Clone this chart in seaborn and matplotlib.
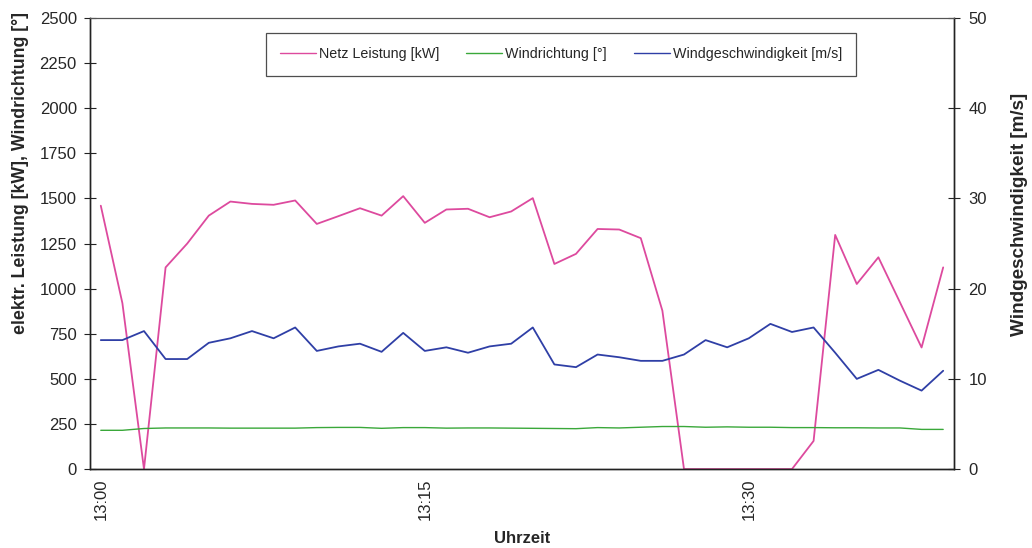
import matplotlib
matplotlib.use("Agg")
from matplotlib import pyplot as plt
from matplotlib.ticker import FixedLocator, NullFormatter
import pandas as pd
import seaborn as sns

# one sample per minute, 13:00 .. 13:39
times = ["13:%02d" % m for m in range(40)]

# Netz Leistung [kW]
power = [1460, 920, 0, 1118, 1250, 1405, 1483, 1470, 1465, 1489,
         1359, 1402, 1446, 1405, 1513, 1365, 1439, 1443, 1396, 1428,
         1502, 1137, 1193, 1331, 1328, 1280, 878, 0, 0, 0,
         0, 0, 0, 156, 1298, 1026, 1174, 924, 674, 1118]

# Windrichtung [°]
direction = [215, 215, 225, 228, 228, 228, 227, 227, 227, 227,
             230, 231, 231, 226, 230, 230, 227, 228, 228, 227,
             226, 225, 224, 230, 228, 232, 236, 236, 232, 234,
             232, 232, 230, 230, 229, 229, 228, 228, 220, 220]

# Windgeschwindigkeit [m/s]
speed = [14.3, 14.3, 15.3, 12.2, 12.2, 14.0, 14.5, 15.3, 14.5, 15.7,
         13.1, 13.6, 13.9, 13.0, 15.1, 13.1, 13.5, 12.9, 13.6, 13.9,
         15.7, 11.6, 11.3, 12.7, 12.4, 12.0, 12.0, 12.7, 14.3, 13.5,
         14.5, 16.1, 15.2, 15.7, 12.9, 10.0, 11.0, 9.8, 8.7, 10.9]

df = pd.DataFrame({"idx": range(len(times)), "Uhrzeit": times,
                   "power": power, "direction": direction, "speed": speed})

sns.set_style("white")
plt.rcParams["font.family"] = ["Liberation Sans", "DejaVu Sans"]

fig = plt.figure(figsize=(10.32, 5.48), dpi=100)
ax = fig.add_axes([0.0872, 0.144, 0.8372, 0.823])
ax2 = ax.twinx()

sns.lineplot(data=df, x="idx", y="power", ax=ax, color="#dd4a9e", linewidth=1.3,
             label="Netz Leistung [kW]", legend=False)
sns.lineplot(data=df, x="idx", y="direction", ax=ax, color="#3aa83a", linewidth=1.0,
             label="Windrichtung [°]", legend=False)
sns.lineplot(data=df, x="idx", y="speed", ax=ax2, color="#2f3fa6", linewidth=1.3,
             label="Windgeschwindigkeit [m/s]", legend=False)

ax.set_xlim(-0.5, len(times) - 0.5)
ax.set_ylim(0, 2500)
ax2.set_ylim(0, 50)
ax.set_yticks(range(0, 2501, 250))
ax2.set_yticks(range(0, 51, 10))

# category axis: labels every 15 samples, tick marks between categories
label_pos = [0, 15, 30]
ax.set_xticks(label_pos)
ax.set_xticklabels([times[i] for i in label_pos], rotation=90)
ax.tick_params(axis="x", which="major", length=0, pad=7, labelsize=12)
ax.xaxis.set_minor_locator(FixedLocator([p - 0.5 for p in label_pos]))
ax.xaxis.set_minor_formatter(NullFormatter())
ax.tick_params(axis="x", which="minor", direction="inout", length=8, width=0.8, color="#222222")

ax.tick_params(axis="y", direction="inout", length=9, width=0.8, color="#222222",
               labelsize=12, pad=5)
ax2.tick_params(axis="y", direction="inout", length=9, width=0.8, color="#222222",
                labelsize=12, pad=6)

ax.set_xlabel("Uhrzeit", fontsize=12, fontweight="bold")
ax.xaxis.set_label_coords(0.5, -0.137)
ax.set_ylabel("elektr. Leistung [kW], Windrichtung [°]", fontsize=12.8, fontweight="bold")
ax.yaxis.set_label_coords(-0.071, 0.656)
ax2.set_ylabel("Windgeschwindigkeit [m/s]", fontsize=13.6, fontweight="bold")
ax2.yaxis.set_label_coords(1.066, 0.565)

for a in (ax, ax2):
    for side in ("left", "right", "bottom"):
        a.spines[side].set_color("#222222")
        a.spines[side].set_linewidth(1.0)
    a.spines["top"].set_color("#555555")
    a.spines["top"].set_linewidth(0.8)

handles = ax.get_lines()[:2] + ax2.get_lines()[:1]
labels = ["Netz Leistung [kW]", "Windrichtung [°]", "Windgeschwindigkeit [m/s]"]
leg = ax2.legend(handles, labels, loc="upper left", bbox_to_anchor=(0.2037, 0.967),
                 borderaxespad=0, ncol=3, fontsize=10.3, frameon=True, fancybox=False,
                 handlelength=2.5, handletextpad=0.2, columnspacing=1.9, borderpad=1.0)
leg.get_frame().set_edgecolor("#222222")
leg.get_frame().set_linewidth(0.9)
for line in leg.get_lines():
    line.set_linewidth(1.0)

fig.savefig("out.png", dpi=100)
